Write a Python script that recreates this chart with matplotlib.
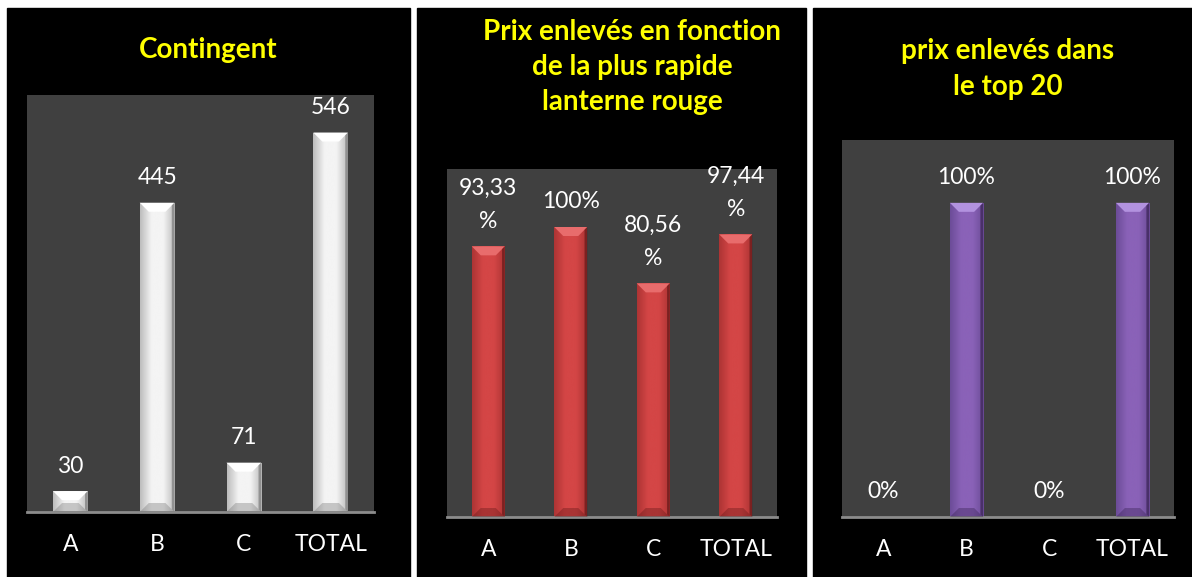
import matplotlib
matplotlib.use('Agg')
import matplotlib.pyplot as plt
import numpy as np
from matplotlib.patches import Rectangle, Polygon
from matplotlib.colors import LinearSegmentedColormap

plt.rcParams['font.family'] = ['Lato', 'DejaVu Sans']

# data
categories = ['A', 'B', 'C', 'TOTAL']
contingent = [30, 445, 71, 546]
prix_lanterne = [93.33, 100, 80.56, 97.44]
prix_top20 = [0, 100, 0, 100]

titles = ['Contingent',
          'Prix enlevés en fonction\nde la plus rapide\nlanterne rouge',
          'prix enlevés dans\nle top 20']


def pct_label(v):
    if float(v).is_integer():
        return f'{v:.0f}%'
    return f'{v:.2f}'.replace('.', ',') + '\n%'


W, H = 1192, 577
fig = plt.figure(figsize=(W / 100, H / 100), dpi=100, facecolor='white')

# black panel backgrounds (pixel boxes: x0, x1)
for x0, x1 in [(7, 410), (417, 806), (813, 1192)]:
    fig.add_artist(Rectangle((x0 / W, 0), (x1 - x0) / W, 1 - 8 / H,
                             transform=fig.transFigure, color='black', zorder=0))


def bevel_bars(ax, values, ymax, body, edge, cap, shade, barw=0.4):
    ax.set_xlim(-0.5, len(values) - 0.5)
    ax.set_ylim(0, ymax)
    pos = ax.get_position()
    ax_w_px = pos.width * W
    ax_h_px = pos.height * H
    bev = 9  # bevel size in pixels
    dx = bev * len(values) / ax_w_px
    dy = bev * ymax / ax_h_px
    cmap = LinearSegmentedColormap.from_list('g', [edge, body, body, edge])
    grad = np.linspace(0, 1, 64).reshape(1, -1)
    for i, v in enumerate(values):
        if v <= 0:
            continue
        x0, x1 = i - barw / 2, i + barw / 2
        bar = ax.bar(i, v, width=barw, color=body, zorder=2, linewidth=0)[0]
        im = ax.imshow(grad, cmap=cmap, extent=[x0, x1, 0, v], aspect='auto',
                       zorder=2.5, interpolation='bicubic')
        im.set_clip_path(bar)
        d = min(dy, v / 2)
        ddx = dx * d / dy
        # top cap
        ax.add_patch(Polygon([(x0, v), (x1, v), (x1 - ddx, v - d), (x0 + ddx, v - d)],
                             closed=True, color=cap, linewidth=0, zorder=3))
        # bottom bevel
        ax.add_patch(Polygon([(x0, 0), (x1, 0), (x1 - ddx, d), (x0 + ddx, d)],
                             closed=True, color=shade, alpha=0.35, linewidth=0, zorder=3))
        # right dark edge
        ax.add_patch(Polygon([(x1, 0), (x1, v), (x1 - ddx * 0.3, v - d * 0.3), (x1 - ddx * 0.3, d * 0.3)],
                             closed=True, color=shade, alpha=0.6, linewidth=0, zorder=3))
    ax.set_xlim(-0.5, len(values) - 0.5)
    ax.set_ylim(0, ymax)


def style_axes(ax):
    ax.set_facecolor('#404040')
    for s in ['top', 'left', 'right']:
        ax.spines[s].set_visible(False)
    ax.spines['bottom'].set_color('#8c8c8c')
    ax.spines['bottom'].set_linewidth(2)
    ax.set_yticks([])
    ax.set_xticks(range(len(categories)))
    ax.set_xticklabels(categories, color='white', fontsize=16.5)
    ax.tick_params(axis='x', length=0, pad=16)


def add_labels(ax, values, labels):
    for i, (v, lab) in enumerate(zip(values, labels)):
        ax.annotate(lab, (i, v), xytext=(0, 10.5), textcoords='offset points',
                    ha='center', va='bottom', color='white', fontsize=16.5,
                    multialignment='center', linespacing=1.7, zorder=5,
                    annotation_clip=False)


# panel 1
ax1 = fig.add_axes([27 / W, 1 - 512 / H, 347 / W, 417 / H])
style_axes(ax1)
bevel_bars(ax1, contingent, 600, body='#f4f4f4', edge='#bdbdbd', cap='#ffffff', shade='#707070')
add_labels(ax1, contingent, [str(v) for v in contingent])

# panel 2
ax2 = fig.add_axes([447 / W, 1 - 517 / H, 330 / W, 348 / H])
style_axes(ax2)
bevel_bars(ax2, prix_lanterne, 120, body='#d44646', edge='#ad3434', cap='#e86c6c', shade='#5a1414')
add_labels(ax2, prix_lanterne, [pct_label(v) for v in prix_lanterne])

# panel 3
ax3 = fig.add_axes([842 / W, 1 - 517 / H, 332 / W, 377 / H])
style_axes(ax3)
bevel_bars(ax3, prix_top20, 120, body='#8a62b8', edge='#6c4c98', cap='#b292df', shade='#301c48')
add_labels(ax3, prix_top20, [pct_label(v) for v in prix_top20])

# titles
title_kw = dict(color='#ffff00', fontsize=20, fontweight='bold', ha='center',
                va='center', multialignment='center', linespacing=1.45)
fig.text(208 / W, 1 - 50 / H, titles[0], **title_kw)
fig.text(632 / W, 1 - 67 / H, titles[1], **title_kw)
fig.text(1008 / W, 1 - 69 / H, titles[2], **title_kw)

fig.savefig('out.png', dpi=100, facecolor='white')
